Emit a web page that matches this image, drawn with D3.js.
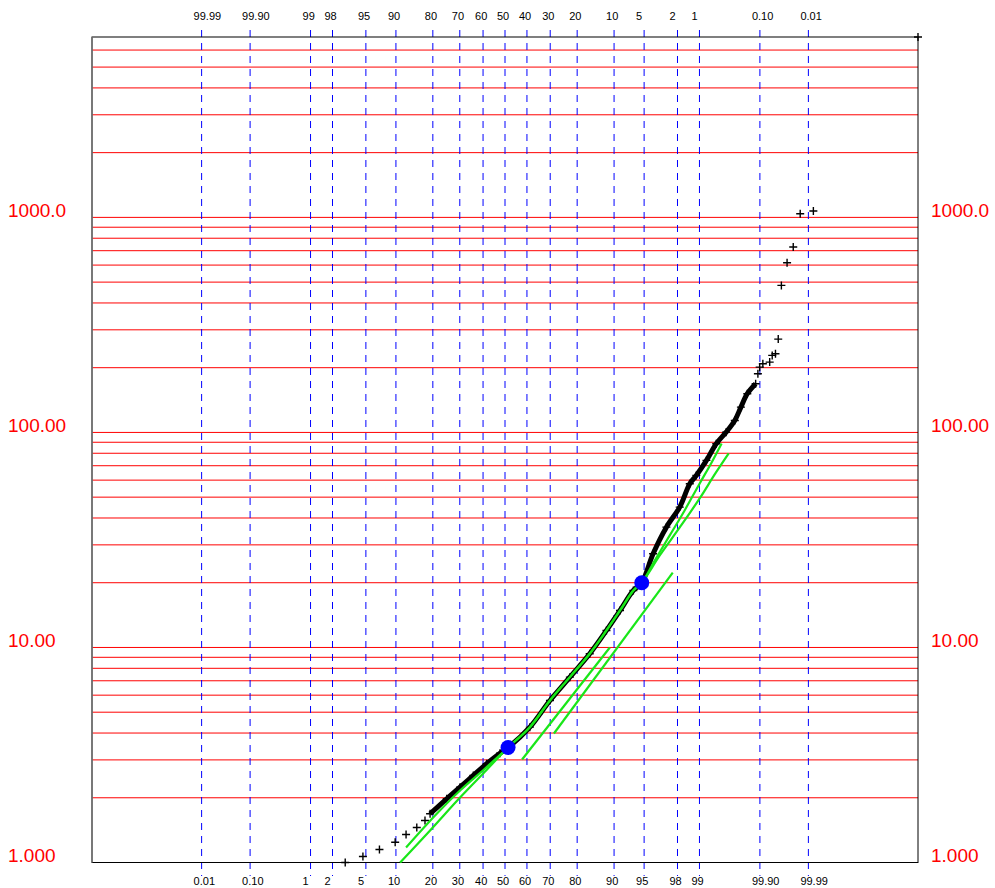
<!DOCTYPE html>
<html><head><meta charset="utf-8">
<script src="https://cdn.jsdelivr.net/npm/d3@7"></script>
<style>body{margin:0;background:#fff} svg{display:block}</style>
</head><body>
<svg id="chart" width="995" height="888"></svg>
<script>
// Probability ticks (cumulative %) and their labels
const probTicks = [0.01, 0.1, 1, 2, 5, 10, 20, 30, 40, 50, 60, 70, 80, 90, 95, 98, 99, 99.9, 99.99];
const bottomLabels = ["0.01","0.10","1","2","5","10","20","30","40","50","60","70","80","90","95","98","99","99.90","99.99"];
const topLabels = ["99.99","99.90","99","98","95","90","80","70","60","50","40","30","20","10","5","2","1","0.10","0.01"];
// Value axis (log)
const valueTicks = [1, 10, 100, 1000];
const valueLabels = ["1.000", "10.00", "100.00", "1000.0"];
const gridValues = [2,3,4,5,6,7,8,9,10,20,30,40,50,60,70,80,90,100,200,300,400,500,600,700,800,900,1000,2000,3000,4000,5000,6000];

// Sample: lower tail (tied clusters)
const lowPct = [2.89, 4.64, 6.94, 9.84, 12.3, 15.1, 17.5];
const lowVal = [1.0, 1.066, 1.149, 1.243, 1.349, 1.455, 1.568];
// Sample: dense body
const bodyPct = [19.1, 24.9, 30.1, 35.7, 41.6, 47.7, 51.5, 61.3, 69.9, 77.5, 83.9, 88.3, 91.2, 93.5, 94.7, 96.03, 97.24, 98.13, 98.63, 98.89, 99.21, 99.44, 99.61, 99.72, 99.78, 99.83, 99.88];
const bodyVal = [1.685, 1.978, 2.239, 2.539, 2.878, 3.224, 3.426, 4.259, 5.669, 7.276, 9.348, 12.0, 14.86, 18.41, 20.0, 27.28, 36.27, 44.95, 57.7, 63.1, 74.1, 88.6, 100.3, 113.7, 131.1, 151.4, 168.5];
// Sample: upper tail
const highPct = [99.891, 99.899, 99.912, 99.935, 99.942, 99.950, 99.956, 99.962, 99.971, 99.9785, 99.9848, 99.9923, 99.99999];
const highVal = [187.5, 201.2, 208.7, 212.3, 228.1, 232.3, 271.6, 482.8, 615.6, 727.8, 1040, 1070, 6900];

// Fitted distribution curves (both pass through the two reference quantiles)
const fitAPct = [10.92, 19.1, 30.1, 40.9, 51.4, 61.3, 69.9, 77.5, 83.9, 88.3, 91.2, 93.5, 94.7, 96.2, 97.49, 98.39, 99.007, 99.34, 99.539];
const fitAVal = [1.0, 1.409, 2.006, 2.650, 3.426, 4.26, 5.67, 7.28, 9.35, 12.0, 14.86, 18.41, 20.0, 25.39, 33.19, 43.37, 57.91, 72.53, 88.9];
const fitBPct = [12.3, 20.75, 30.1, 40.9, 51.4, 61.3, 69.9, 77.5, 83.9, 88.3, 91.2, 93.5, 94.7, 96.68, 98.13, 99.007, 99.408, 99.646];
const fitBVal = [1.174, 1.654, 2.162, 2.736, 3.426, 4.26, 5.67, 7.28, 9.35, 12.0, 14.86, 18.41, 20.0, 26.79, 36.15, 49.32, 63.77, 79.9];
// Straight segment fits
const segStartPct = [57.8, 71.5];
const segStartVal = [3.014, 3.98];
const segEndPct = [89.08, 97.7];
const segEndVal = [10.0, 22.3];

// Reference quantiles
const refPct = [51.4, 94.7];
const refVal = [3.426, 20.0];

// Inverse standard normal CDF (Acklam)
function probit(p) {
  const a=[-3.969683028665376e+01,2.209460984245205e+02,-2.759285104469687e+02,1.383577518672690e+02,-3.066479806614716e+01,2.506628277459239e+00];
  const b=[-5.447609879822406e+01,1.615858368580409e+02,-1.556989798598866e+02,6.680131188771972e+01,-1.328068155288572e+01];
  const c=[-7.784894002430293e-03,-3.223964580411365e-01,-2.400758277161838e+00,-2.549671625949731e+00,4.374664141464968e+00,2.938163982698783e+00];
  const d=[7.784695709041462e-03,3.224671290700398e-01,2.445134137142996e+00,3.754408661907416e+00];
  const pl = 0.02425, ph = 1 - pl;
  let q, r;
  if (p < pl) { q = Math.sqrt(-2*Math.log(p)); return (((((c[0]*q+c[1])*q+c[2])*q+c[3])*q+c[4])*q+c[5])/((((d[0]*q+d[1])*q+d[2])*q+d[3])*q+1); }
  if (p <= ph) { q = p-0.5; r = q*q; return (((((a[0]*r+a[1])*r+a[2])*r+a[3])*r+a[4])*r+a[5])*q/(((((b[0]*r+b[1])*r+b[2])*r+b[3])*r+b[4])*r+1); }
  q = Math.sqrt(-2*Math.log(1-p));
  return -(((((c[0]*q+c[1])*q+c[2])*q+c[3])*q+c[4])*q+c[5])/((((d[0]*q+d[1])*q+d[2])*q+d[3])*q+1);
}
// paper scale: normal score with slight tail compression
const paper = z => z - 0.01665 * z * Math.abs(z);
const zEdge = probit(1 - 1e-7);

const L = 92, R = 918, T = 37, B = 862.5;
const xs = d3.scaleLinear().domain([paper(-zEdge), paper(zEdge)]).range([L, R]);
const px = pct => xs(paper(probit(pct / 100)));
const ys = d3.scaleLog().domain([1, 6900]).range([B, T]);

const svg = d3.select("#chart");
const font = "Arial, 'Liberation Sans', sans-serif";

// horizontal grid
svg.append("g").selectAll("line").data(gridValues).join("line")
  .attr("x1", L).attr("x2", R)
  .attr("y1", d => ys(d)).attr("y2", d => ys(d))
  .attr("stroke", "#ff0000").attr("stroke-width", 1);

// vertical probability grid
svg.append("g").selectAll("line").data(probTicks).join("line")
  .attr("x1", d => px(d)).attr("x2", d => px(d))
  .attr("y1", 30).attr("y2", 876)
  .attr("stroke", "#0000ff").attr("stroke-width", 1)
  .attr("stroke-dasharray", "7,6");

// frame
svg.append("rect").attr("x", L).attr("y", T).attr("width", R - L).attr("height", B - T)
  .attr("fill", "none").attr("stroke", "#000").attr("stroke-width", 1);
svg.append("line").attr("x1", L).attr("x2", L).attr("y1", T).attr("y2", B)
  .attr("stroke", "#777").attr("stroke-width", 1.6);

// probability labels
svg.append("g").selectAll("text").data(probTicks).join("text")
  .attr("x", d => px(d) - 8).attr("y", 19.5)
  .attr("font-family", font).attr("font-size", 11).attr("fill", "#000")
  .text((d, i) => topLabels[i]);
svg.append("g").selectAll("text").data(probTicks).join("text")
  .attr("x", d => px(d) - 8).attr("y", 884.5)
  .attr("font-family", font).attr("font-size", 11).attr("fill", "#000")
  .text((d, i) => bottomLabels[i]);

// value labels both sides
[8, 931].forEach(x0 => {
  svg.append("g").selectAll("text").data(valueTicks).join("text")
    .attr("x", x0).attr("y", d => ys(d) - 0.5)
    .attr("font-family", font).attr("font-size", 19).attr("fill", "#ff0000")
    .text((d, i) => valueLabels[i]);
});

// dense body band
const bodyPts = bodyPct.map((p, i) => [px(p), ys(bodyVal[i])]);
svg.append("path").attr("d", d3.line().curve(d3.curveCatmullRom)(bodyPts))
  .attr("fill", "none").attr("stroke", "#000").attr("stroke-width", 5)
  .attr("stroke-linejoin", "round");

// plus markers
const allPts = [];
lowPct.forEach((p, i) => allPts.push([px(p), ys(lowVal[i])]));
bodyPts.forEach(q => allPts.push(q));
highPct.forEach((p, i) => allPts.push([px(p), ys(highVal[i])]));
const plus = "M-4,0H4M0,-4V4";
svg.append("g").selectAll("path").data(allPts).join("path")
  .attr("transform", d => `translate(${d[0]},${d[1]})`)
  .attr("d", plus).attr("stroke", "#000").attr("stroke-width", 1.4).attr("fill", "none");

// fitted curves
const green = "#19e619";
const fitLine = d3.line().curve(d3.curveCatmullRom);
[[fitAPct, fitAVal], [fitBPct, fitBVal]].forEach(([ps, vs]) => {
  svg.append("path").attr("d", fitLine(ps.map((p, i) => [px(p), ys(vs[i])])))
    .attr("fill", "none").attr("stroke", green).attr("stroke-width", 2.2);
});
svg.append("g").selectAll("line").data(segStartPct).join("line")
  .attr("x1", (d, i) => px(segStartPct[i])).attr("y1", (d, i) => ys(segStartVal[i]))
  .attr("x2", (d, i) => px(segEndPct[i])).attr("y2", (d, i) => ys(segEndVal[i]))
  .attr("stroke", green).attr("stroke-width", 2.2);

// reference quantiles
svg.append("g").selectAll("circle").data(refPct).join("circle")
  .attr("cx", (d, i) => px(refPct[i])).attr("cy", (d, i) => ys(refVal[i]))
  .attr("r", 7.5).attr("fill", "#0000ff");
</script>
</body></html>
